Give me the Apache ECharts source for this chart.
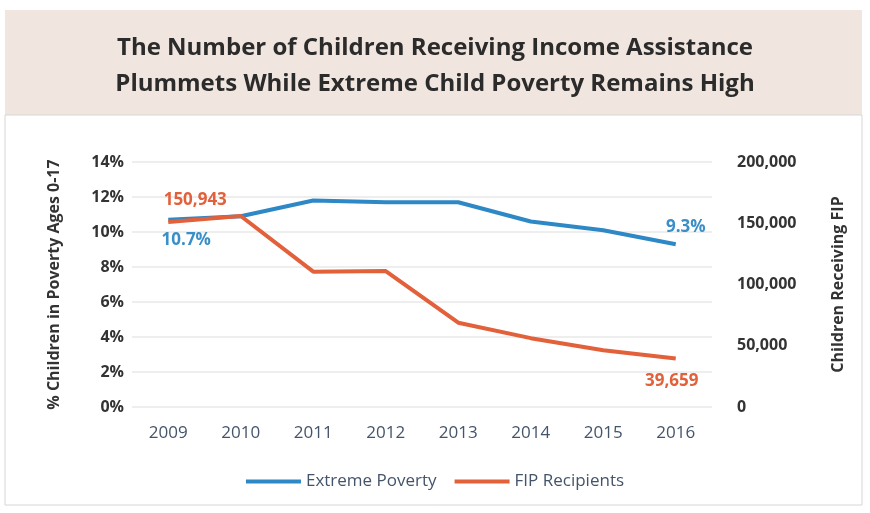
<!DOCTYPE html>
<html>
<head>
<meta charset="utf-8">
<script src="https://cdn.jsdelivr.net/npm/echarts@6/dist/echarts.min.js"></script>
<style>
  html, body { margin: 0; padding: 0; background: #fff; }
  #chart { width: 870px; height: 513px; }
</style>
</head>
<body>
<div id="chart"></div>
<script>
const years = ["2009", "2010", "2011", "2012", "2013", "2014", "2015", "2016"];
const extremePoverty = [10.7, 10.9, 11.8, 11.7, 11.7, 10.6, 10.1, 9.3];
const fipRecipients = [150943, 155900, 110500, 111000, 68800, 56200, 46300, 39659];
const leftTicks = { min: 0, max: 14, interval: 2 };
const rightTicks = { min: 0, max: 200000, interval: 50000 };

const blue = "#2e88c6";
const orange = "#e2603a";
const text = "#333333";
const slate = "#44546a";
const font = "'Open Sans', 'Noto Sans', sans-serif";

const last = years.length - 1;
const fmt = (v) => v.toLocaleString("en-US");

// only the first and last points carry a value label
function withEndLabels(values, color, first, end, format) {
  return values.map((v, i) => {
    if (i === 0) return { value: v, label: { show: true, color, formatter: () => format(v), ...first } };
    if (i === last) return { value: v, label: { show: true, color, formatter: () => format(v), ...end } };
    return v;
  });
}

const chart = echarts.init(document.getElementById("chart"));
chart.setOption({
  animation: false,
  textStyle: { fontFamily: font },
  graphic: [
    { type: "rect", z: -10, shape: { x: 5, y: 10, width: 857, height: 105 }, style: { fill: "#f1e6df" } },
    { type: "rect", z: -10, shape: { x: 5, y: 115, width: 857, height: 390 }, style: { fill: "#fff", stroke: "#d6d6d6", lineWidth: 1 } },
  ],
  title: {
    text: "The Number of Children Receiving Income Assistance\nPlummets While Extreme Child Poverty Remains High",
    left: "center",
    top: 25,
    textStyle: { fontFamily: font, fontSize: 24, fontWeight: "bold", color: "#2b2b2b", lineHeight: 36 },
  },
  legend: {
    bottom: 18,
    left: "center",
    itemWidth: 55,
    itemHeight: 4,
    itemGap: 18,
    icon: "rect",
    textStyle: { fontFamily: font, fontSize: 17, color: slate },
    data: ["Extreme Poverty", "FIP Recipients"],
  },
  grid: { left: 132, right: 158, top: 162, bottom: 106 },
  xAxis: {
    type: "category",
    data: years,
    boundaryGap: true,
    axisLine: { show: false },
    axisTick: { show: false },
    axisLabel: { color: slate, fontSize: 17, margin: 18 },
  },
  yAxis: [
    {
      type: "value",
      ...leftTicks,
      name: "% Children in Poverty Ages 0-17",
      nameLocation: "middle",
      nameGap: 70,
      nameTextStyle: { color: text, fontSize: 16, fontWeight: "bold" },
      axisLabel: { color: text, fontSize: 16, fontWeight: "bold", formatter: "{value}%" },
      splitLine: { lineStyle: { color: "#e8e8e8", width: 1.5 } },
    },
    {
      type: "value",
      ...rightTicks,
      position: "right",
      name: "Children Receiving FIP",
      nameLocation: "middle",
      nameGap: 118,
      nameRotate: 90,
      nameTextStyle: { color: text, fontSize: 16, fontWeight: "bold" },
      axisLabel: { color: text, fontSize: 16, fontWeight: "bold", margin: 25, formatter: (v) => fmt(v) },
      splitLine: { show: false },
    },
  ],
  series: [
    {
      name: "Extreme Poverty",
      type: "line",
      yAxisIndex: 0,
      showSymbol: true,
      symbol: "circle",
      symbolSize: 0,
      lineStyle: { width: 4, color: blue },
      itemStyle: { color: blue },
      label: { fontSize: 17, fontWeight: "bold" },
      data: withEndLabels(
        extremePoverty,
        "#3a8fc8",
        { position: "bottom", offset: [18, 7] },
        { position: "top", offset: [10, -4] },
        (v) => v.toFixed(1) + "%"
      ),
      z: 2,
    },
    {
      name: "FIP Recipients",
      type: "line",
      yAxisIndex: 1,
      showSymbol: true,
      symbol: "circle",
      symbolSize: 0,
      lineStyle: { width: 4, color: orange },
      itemStyle: { color: orange },
      label: { fontSize: 17, fontWeight: "bold" },
      data: withEndLabels(
        fipRecipients,
        orange,
        { position: "top", offset: [27, -8] },
        { position: "bottom", offset: [-4, 9] },
        fmt
      ),
      z: 3,
    },
  ],
});
</script>
</body>
</html>
